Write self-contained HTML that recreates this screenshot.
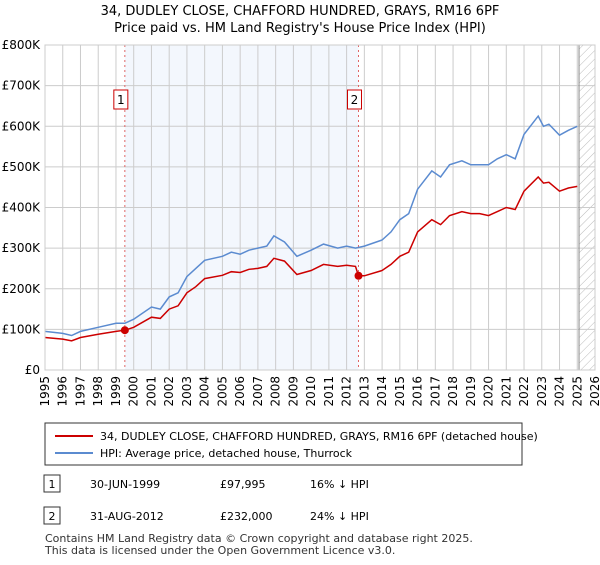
<!DOCTYPE html>
<html><head><meta charset="utf-8"><style>
body{margin:0;width:600px;height:560px;background:#fff;font-family:"Liberation Sans","DejaVu Sans",sans-serif;overflow:hidden}
svg text{font-family:"DejaVu Sans","Liberation Sans",sans-serif}
</style></head><body>
<svg id="c" width="600" height="560">
<text x="300" y="15" text-anchor="middle" font-size="13">34, DUDLEY CLOSE, CHAFFORD HUNDRED, GRAYS, RM16 6PF</text>
<text x="300" y="32" text-anchor="middle" font-size="13">Price paid vs. HM Land Registry's House Price Index (HPI)</text>
<defs><pattern id="h" width="6" height="6" patternUnits="userSpaceOnUse" patternTransform="rotate(45)"><line x1="0" y1="0" x2="0" y2="6" stroke="#bbb" stroke-width="1"/></pattern></defs>
<g id="plot"></g>
<rect x="45" y="423" width="477" height="42" fill="#fff" stroke="#333"/>
<line x1="55" y1="436" x2="93" y2="436" stroke="#cc0000" stroke-width="2"/>
<text x="100" y="440" font-size="11">34, DUDLEY CLOSE, CHAFFORD HUNDRED, GRAYS, RM16 6PF (detached house)</text>
<line x1="55" y1="453" x2="93" y2="453" stroke="#5b8bd0" stroke-width="2"/>
<text x="100" y="457" font-size="11">HPI: Average price, detached house, Thurrock</text>
<rect x="44" y="475" width="16" height="17" fill="#fff" stroke="#333"/>
<text x="52" y="488" font-size="11" text-anchor="middle">1</text>
<text x="90" y="488" font-size="11">30-JUN-1999</text>
<text x="220" y="488" font-size="11">£97,995</text>
<text x="310" y="488" font-size="11">16% ↓ HPI</text>
<rect x="44" y="507" width="16" height="17" fill="#fff" stroke="#333"/>
<text x="52" y="520" font-size="11" text-anchor="middle">2</text>
<text x="90" y="520" font-size="11">31-AUG-2012</text>
<text x="220" y="520" font-size="11">£232,000</text>
<text x="310" y="520" font-size="11">24% ↓ HPI</text>
<text x="45" y="542" font-size="11" fill="#333">Contains HM Land Registry data © Crown copyright and database right 2025.</text>
<text x="45" y="554" font-size="11" fill="#333">This data is licensed under the Open Government Licence v3.0.</text>
</svg>
<script>
const yTicks=[0,100,200,300,400,500,600,700,800];
const yTickLabels=["£0","£100K","£200K","£300K","£400K","£500K","£600K","£700K","£800K"];
const xYears=[1995,1996,1997,1998,1999,2000,2001,2002,2003,2004,2005,2006,2007,2008,2009,2010,2011,2012,2013,2014,2015,2016,2017,2018,2019,2020,2021,2022,2023,2024,2025,2026];
const hpiT=[1995,1996,1996.5,1997,1998,1999,1999.5,2000,2001,2001.5,2002,2002.5,2003,2003.5,2004,2005,2005.5,2006,2006.5,2007,2007.5,2007.9,2008.5,2009.2,2010,2010.7,2011.5,2012,2012.5,2013,2014,2014.5,2015,2015.5,2016,2016.8,2017.3,2017.8,2018.5,2019,2019.5,2020,2020.5,2021,2021.5,2022,2022.8,2023.1,2023.4,2024,2024.5,2025];
const hpiV=[95,90,85,95,105,115,115,125,155,150,180,190,230,250,270,280,290,285,295,300,305,330,315,280,295,310,300,305,300,305,320,340,370,385,445,490,475,505,515,505,505,505,520,530,520,580,625,600,605,578,590,600];
const ppT=[1995,1996,1996.5,1997,1998,1999,1999.5,2000,2001,2001.5,2002,2002.5,2003,2003.5,2004,2005,2005.5,2006,2006.5,2007,2007.5,2007.9,2008.5,2009.2,2010,2010.7,2011.5,2012,2012.5,2012.67,2013,2014,2014.5,2015,2015.5,2016,2016.8,2017.3,2017.8,2018.5,2019,2019.5,2020,2020.5,2021,2021.5,2022,2022.8,2023.1,2023.4,2024,2024.5,2025];
const ppV=[80,76,72,80,88,95,98,105,130,127,150,158,190,205,225,233,242,240,248,250,255,275,268,235,245,260,255,258,255,232,232,245,260,280,290,340,370,358,380,390,385,385,380,390,400,395,440,475,460,462,440,448,452];
const saleT=[1999.5,2012.67];
const saleV=[97.995,232];
const saleLabels=["1","2"];
const L=45,R=595,T=45,B=370;
const x=t=>L+(t-1995)/(2026-1995)*(R-L);
const y=v=>B-v/800*(B-T);
const NS="http://www.w3.org/2000/svg";
const g=document.getElementById('plot');
function mk(tag,a){const e=document.createElementNS(NS,tag);for(const k in a)e.setAttribute(k,a[k]);g.appendChild(e);return e;}
let e;
e=mk('rect',{x:x(saleT[0]),y:T,width:x(saleT[1])-x(saleT[0]),height:B-T,fill:'#eef3fc',opacity:0.7});


e=mk('rect',{x:x(2025.1),y:T,width:R-x(2025.1),height:B-T,fill:'url(#h)'});


xYears.forEach(t=>{e=mk('line',{x1:x(t),x2:x(t),y1:T,y2:B,stroke:'#ccc'});


const tx=x(t)+4,ty=B+6;
e=mk('text',{x:tx,y:ty,'font-size':12,'text-anchor':'end',transform:'rotate(-90 '+tx+' '+ty+')'});e.textContent=t;

});
yTicks.forEach((v,i)=>{e=mk('line',{x1:L,x2:R,y1:y(v),y2:y(v),stroke:'#ccc'});


e=mk('text',{x:L-5,y:y(v)+4,'font-size':12,'text-anchor':'end'});e.textContent=yTickLabels[i];

});
e=mk('line',{x1:x(2025.1),x2:x(2025.1),y1:T,y2:B,stroke:'#888'});


saleT.forEach((t,i)=>{e=mk('line',{x1:x(t),x2:x(t),y1:T,y2:B,stroke:'#e06666','stroke-dasharray':'2,3'});


e=mk('rect',{x:x(t)-11,y:90,width:14,height:19,fill:'#fff',stroke:'#cc0000'});


e=mk('text',{x:x(t)-4,y:104,'font-size':12,'text-anchor':'middle'});e.textContent=saleLabels[i];

});
const pts=(ts,vs)=>ts.map((t,i)=>x(t).toFixed(1)+','+y(vs[i]).toFixed(1)).join(' ');
e=mk('polyline',{points:pts(hpiT,hpiV),fill:'none',stroke:'#5b8bd0','stroke-width':1.5});


e=mk('polyline',{points:pts(ppT,ppV),fill:'none',stroke:'#cc0000','stroke-width':1.5});


saleT.forEach((t,i)=>{e=mk('circle',{cx:x(t),cy:y(saleV[i]),r:4,fill:'#cc0000'});

});
e=mk('rect',{x:L,y:T,width:R-L,height:B-T,fill:'none',stroke:'#ccc'});


</script>
</body></html>
